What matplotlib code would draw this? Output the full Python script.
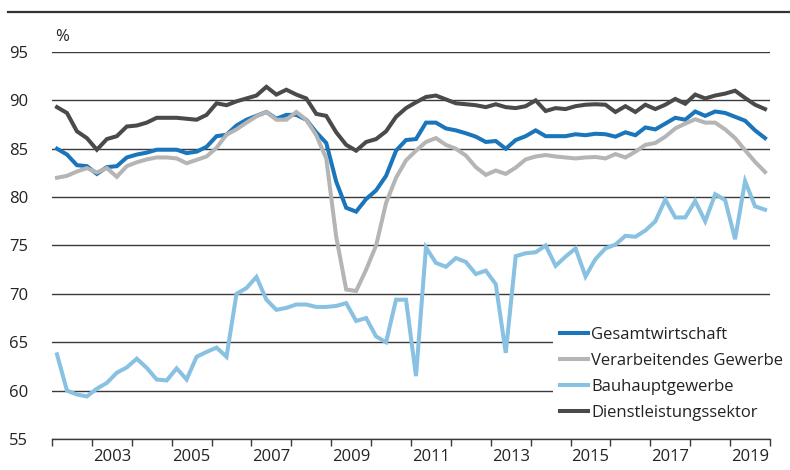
import numpy as np
import matplotlib
matplotlib.use("Agg")
import matplotlib.pyplot as plt

plt.rcParams['font.family'] = ['Open Sans', 'DejaVu Sans']

# quarterly values, 2002 Q1 - 2019 Q4
gesamt = [85.0, 84.4, 83.3, 83.2, 82.4, 83.1, 83.2, 84.1, 84.4, 84.6,
          84.9, 84.9, 84.9, 84.55, 84.7, 85.2, 86.3, 86.45, 87.4, 88.0,
          88.4, 88.8, 88.1, 88.5, 88.5, 88.0, 86.7, 85.6, 81.6, 78.9,
          78.5, 79.8, 80.7, 82.2, 84.8, 85.9, 86.0, 87.7, 87.7, 87.1,
          86.9, 86.6, 86.25, 85.7, 85.8, 85.0, 85.9, 86.3, 86.9, 86.3,
          86.3, 86.3, 86.5, 86.4, 86.55, 86.5, 86.25, 86.7, 86.4, 87.2,
          87.0, 87.6, 88.2, 88.0, 88.85, 88.4, 88.85, 88.7, 88.3, 87.9,
          86.9, 86.1]
verarb = [82.0, 82.2, 82.65, 83.0, 82.55, 83.0, 82.1, 83.2, 83.6, 83.9,
          84.1, 84.1, 84.0, 83.5, 83.85, 84.2, 85.1, 86.45, 87.0, 87.7,
          88.35, 88.8, 88.0, 88.0, 88.8, 88.0, 86.4, 84.0, 75.9, 70.45,
          70.3, 72.5, 75.0, 79.4, 82.0, 83.8, 84.8, 85.7, 86.1, 85.4,
          85.0, 84.3, 83.1, 82.3, 82.75, 82.4, 83.05, 83.9, 84.2, 84.35,
          84.2, 84.1, 84.0, 84.1, 84.15, 84.0, 84.45, 84.1, 84.7, 85.4,
          85.6, 86.25, 87.1, 87.6, 88.05, 87.7, 87.7, 87.0, 86.1, 84.85,
          83.65, 82.6]
bau = [63.75, 60.0, 59.6, 59.4, 60.2, 60.8, 61.85, 62.4, 63.3, 62.35,
       61.15, 61.05, 62.3, 61.15, 63.5, 64.0, 64.45, 63.5, 70.0, 70.6,
       71.75, 69.4, 68.35, 68.55, 68.9, 68.9, 68.65, 68.65, 68.75, 69.05,
       67.2, 67.5, 65.6, 65.0, 69.4, 69.4, 61.5, 74.8, 73.2, 72.8,
       73.7, 73.3, 72.05, 72.4, 71.0, 63.9, 73.9, 74.2, 74.3, 75.0,
       72.9, 73.85, 74.7, 71.8, 73.6, 74.7, 75.1, 76.0, 75.9, 76.55,
       77.5, 79.75, 77.9, 77.9, 79.6, 77.5, 80.3, 79.7, 75.65, 81.65,
       79.05, 78.7]
dienst = [89.3, 88.7, 86.8, 86.1, 84.9, 86.0, 86.3, 87.3, 87.4, 87.7,
          88.2, 88.2, 88.2, 88.1, 88.0, 88.5, 89.7, 89.5, 89.9, 90.2,
          90.5, 91.4, 90.6, 91.1, 90.6, 90.2, 88.6, 88.4, 86.7, 85.4,
          84.8, 85.7, 86.0, 86.8, 88.3, 89.2, 89.8, 90.35, 90.5, 90.1,
          89.7, 89.6, 89.5, 89.3, 89.6, 89.3, 89.2, 89.4, 90.0, 88.9,
          89.2, 89.1, 89.4, 89.55, 89.6, 89.55, 88.8, 89.4, 88.8, 89.55,
          89.1, 89.55, 90.15, 89.65, 90.6, 90.2, 90.5, 90.7, 91.0, 90.25,
          89.55, 89.1]

labels = ["Gesamtwirtschaft", "Verarbeitendes Gewerbe", "Bauhauptgewerbe",
          "Dienstleistungssektor"]
colors = ["#1a75bb", "#b5b5b5", "#88c1e1", "#4a4a4a"]
label_years = [2003, 2005, 2007, 2009, 2011, 2013, 2015, 2017, 2019]

x = 2002 + (np.arange(len(gesamt)) + 0.5) / 4

fig = plt.figure(figsize=(7.9, 4.7), dpi=100)
ax = fig.add_axes([52 / 790, 1 - 439 / 470, 718 / 790, 387 / 470])

for ys, lab, c in zip([gesamt, verarb, bau, dienst], labels, colors):
    ax.plot(x, ys, color=c, lw=2.9, label=lab, solid_joinstyle='miter')

ax.set_xlim(2002, 2020)
ax.set_ylim(55, 95)
ax.set_yticks(range(55, 96, 5))
ax.grid(axis='y', color='#3a3a3a', lw=1.0)
ax.set_axisbelow(True)
for s in ['left', 'right', 'top']:
    ax.spines[s].set_visible(False)
ax.spines['bottom'].set_color('#3a3a3a')
ax.spines['bottom'].set_linewidth(1.0)

ax.set_xticks(range(2002, 2021))
ax.set_xticklabels([])
ax.set_xticks([yr + 0.5 for yr in label_years], minor=True)
ax.set_xticklabels([str(yr) for yr in label_years], minor=True)
ax.tick_params(axis='x', which='major', length=5, width=1.0, color='#3a3a3a')
ax.tick_params(axis='x', which='minor', length=0, pad=7, labelsize=12, labelcolor='#222222')
ax.tick_params(axis='y', length=0, pad=17, labelsize=12, labelcolor='#222222')

ax.text(0.005, 1.017, "%", transform=ax.transAxes, fontsize=12, color='#222222',
        ha='left', va='bottom')

leg = ax.legend(loc='lower right', bbox_to_anchor=(1.04, 0.005), frameon=True,
                facecolor='white', edgecolor='none', framealpha=1, fancybox=False,
                fontsize=12, handlelength=1.7, handletextpad=0.15, labelspacing=0.6,
                borderpad=0.45)
for t in leg.get_texts():
    t.set_color('#222222')

# top rule of the cropped header
fig.add_artist(plt.Line2D([8 / 790, 1.0], [1 - 12 / 470] * 2, color='#333333', lw=1.6))

fig.savefig("out.png", dpi=100)
